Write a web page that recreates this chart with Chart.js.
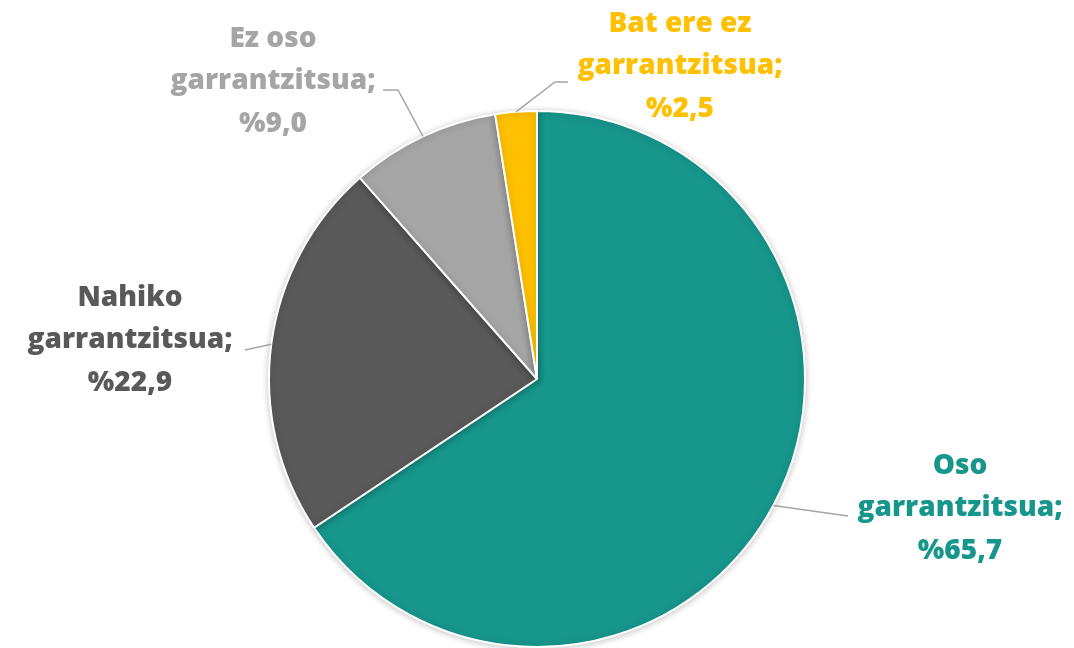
<!DOCTYPE html>
<html>
<head>
<meta charset="utf-8">
<script src="https://cdn.jsdelivr.net/npm/chart.js@4.4.1/dist/chart.umd.min.js"></script>
<style>
html,body{margin:0;padding:0;background:#fff;}
#wrap{width:1074px;height:648px;position:relative;}
</style>
</head>
<body>
<div id="wrap"><canvas id="c" width="1074" height="648"></canvas></div>
<script>
const categories = ["Oso garrantzitsua", "Nahiko garrantzitsua", "Ez oso garrantzitsua", "Bat ere ez garrantzitsua"];
const labelLines = [["Oso", "garrantzitsua;", "%65,7"], ["Nahiko", "garrantzitsua;", "%22,9"], ["Ez oso", "garrantzitsua;", "%9,0"], ["Bat ere ez", "garrantzitsua;", "%2,5"]];
const values = [65.7, 22.9, 9.0, 2.5];
const colors = ["#17968C", "#595959", "#A5A5A5", "#FFC000"];

// label layout (style): text center x, first line y, elbow points for leaders
const labelLayout = [
  {x: 960, y: 466, path: [[848, 516]]},
  {x: 130, y: 298, path: [[245, 350]]},
  {x: 273, y: 39, path: [[398, 90], [383, 90]]},
  {x: 680, y: 24, path: [[555, 82], [568, 82]]}
];

const shadowPlugin = {
  id: 'shadow',
  beforeDatasetsDraw(chart) {
    const ctx = chart.ctx;
    ctx.save();
    ctx.shadowColor = 'rgba(0,0,0,0.22)';
    ctx.shadowBlur = 7;
    ctx.shadowOffsetX = 0;
    ctx.shadowOffsetY = 1;
  },
  afterDatasetsDraw(chart) {
    chart.ctx.restore();
  }
};

const labelPlugin = {
  id: 'pieLabels',
  afterDraw(chart) {
    const ctx = chart.ctx;
    const meta = chart.getDatasetMeta(0);
    ctx.save();
    meta.data.forEach((arc, i) => {
      const p = arc.getProps(['x', 'y', 'startAngle', 'endAngle', 'outerRadius'], true);
      const mid = (p.startAngle + p.endAngle) / 2;
      const ax = p.x + Math.cos(mid) * p.outerRadius;
      const ay = p.y + Math.sin(mid) * p.outerRadius;
      const L = labelLayout[i];
      ctx.strokeStyle = '#A6A6A6';
      ctx.lineWidth = 1.5;
      ctx.beginPath();
      ctx.moveTo(ax, ay);
      L.path.forEach(pt => ctx.lineTo(pt[0], pt[1]));
      ctx.stroke();
      ctx.fillStyle = colors[i];
      ctx.font = '800 28px "Open Sans", sans-serif';
      ctx.textAlign = 'center';
      ctx.textBaseline = 'middle';
      labelLines[i].forEach((t, k) => {
        ctx.fillText(t, L.x, L.y + k * 42.5);
      });
    });
    ctx.restore();
  }
};

new Chart(document.getElementById('c'), {
  type: 'pie',
  data: {
    labels: categories,
    datasets: [{
      data: values,
      backgroundColor: colors,
      borderColor: '#FFFFFF',
      borderWidth: 2
    }]
  },
  options: {
    responsive: false,
    animation: false,
    layout: {padding: {top: 110, bottom: 0, left: 267, right: 267}},
    plugins: {legend: {display: false}, tooltip: {enabled: false}}
  },
  plugins: [shadowPlugin, labelPlugin]
});
</script>
</body>
</html>
